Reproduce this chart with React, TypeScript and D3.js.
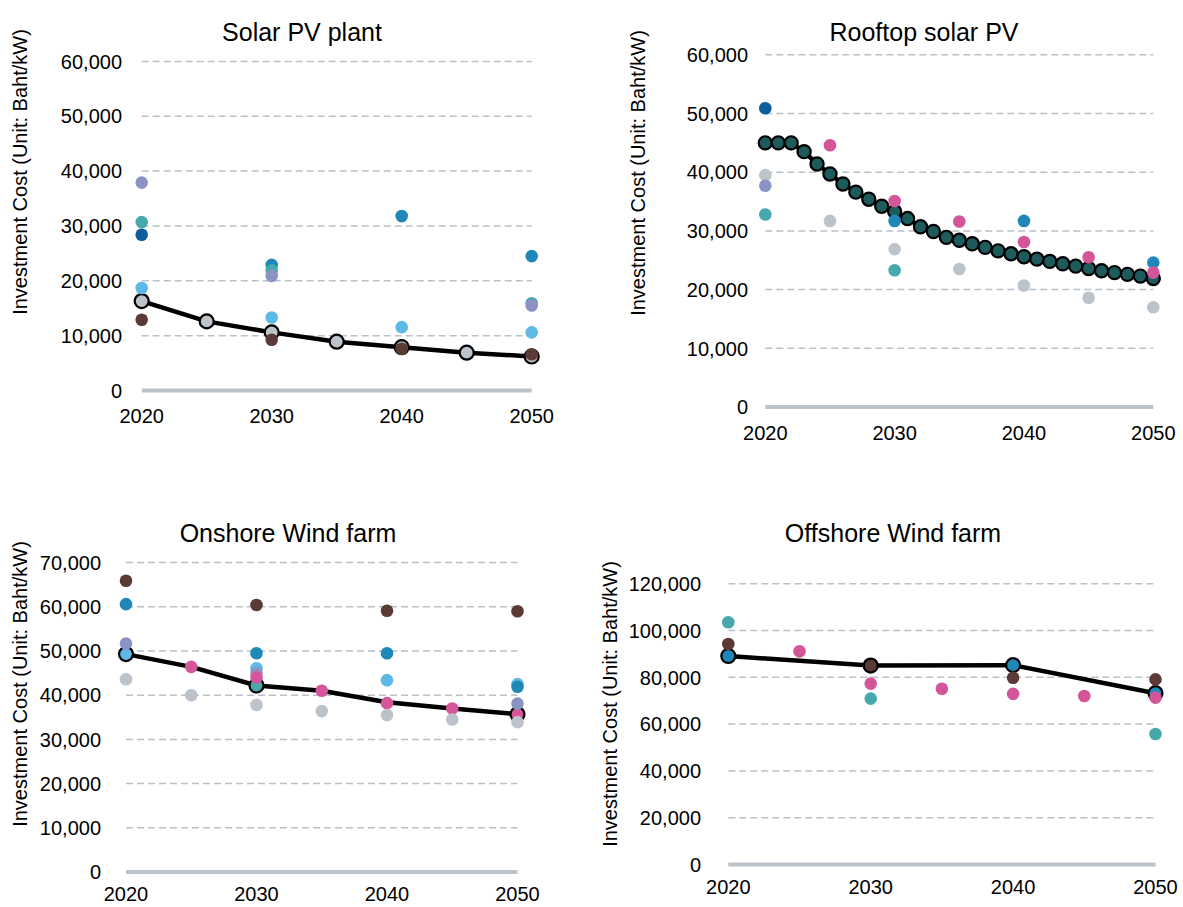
import React from "react";
import * as d3 from "d3";

// series colours by source key
const SRC_COLORS: Record<string, string> = {
  A: "#8b93c5",
  B: "#46a9ad",
  C: "#0b5e99",
  D: "#5db9e6",
  E: "#bcc3ca",
  F: "#5b3a36",
  G: "#1f88b9",
  H: "#d5559b",
  T: "#1e5b5d",
};

type Dot = [number, number, string];
type Pt = [number, number];

// ---- Solar PV plant ----
const solarPlantLine: Pt[] = [
  [2020, 16300], [2025, 12600], [2030, 10600], [2035, 8900],
  [2040, 7900], [2045, 6900], [2050, 6200],
];
const solarPlantLineSrc = "E";
const solarPlantDots: Dot[] = [
  [2020, 37900, "A"], [2020, 30700, "B"], [2020, 28400, "C"], [2020, 18700, "D"], [2020, 12900, "F"],
  [2030, 22900, "G"], [2030, 21900, "B"], [2030, 20900, "A"], [2030, 13300, "D"], [2030, 9250, "F"],
  [2040, 31800, "G"], [2040, 11550, "D"], [2040, 7600, "F"],
  [2050, 24500, "G"], [2050, 15900, "B"], [2050, 15500, "A"], [2050, 10600, "D"], [2050, 6600, "F"],
];

// ---- Rooftop solar PV ----
const rooftopYears = d3.range(2020, 2051);
const rooftopValues = [
  45000, 45000, 45000, 43500, 41400, 39700, 38000, 36600, 35400, 34200,
  33300, 32100, 30700, 29900, 28900, 28400, 27800, 27200, 26600, 26100,
  25600, 25200, 24800, 24400, 24000, 23600, 23200, 22900, 22600, 22300, 21900,
];
const rooftopLineSrc = "T";
const rooftopDots: Dot[] = [
  [2020, 50900, "C"], [2020, 39500, "E"], [2020, 37700, "A"], [2020, 32800, "B"],
  [2025, 44600, "H"], [2025, 31700, "E"],
  [2030, 35100, "H"], [2030, 31700, "G"], [2030, 26900, "E"], [2030, 23300, "B"],
  [2035, 31600, "H"], [2035, 23500, "E"],
  [2040, 31700, "G"], [2040, 28100, "H"], [2040, 20700, "E"],
  [2045, 25500, "H"], [2045, 18600, "E"],
  [2050, 24600, "G"], [2050, 22900, "H"], [2050, 17000, "E"],
];

// ---- Onshore Wind farm ----
const onshoreLine: Pt[] = [
  [2020, 49300], [2025, 46400], [2030, 42200], [2035, 41000],
  [2040, 38400], [2045, 37000], [2050, 35700],
];
const onshoreLineMarks: [number, string][] = [[2020, "D"], [2030, "B"], [2050, "H"]];
const onshoreDots: Dot[] = [
  [2020, 65900, "F"], [2020, 60600, "G"], [2020, 51700, "A"], [2020, 43600, "E"],
  [2025, 46400, "H"], [2025, 40000, "E"],
  [2030, 60400, "F"], [2030, 49500, "G"], [2030, 46100, "D"], [2030, 45000, "A"], [2030, 44000, "H"], [2030, 37800, "E"],
  [2035, 41000, "H"], [2035, 36400, "E"],
  [2040, 59100, "F"], [2040, 49500, "G"], [2040, 43400, "D"], [2040, 38200, "H"], [2040, 35500, "E"],
  [2045, 37000, "H"], [2045, 34500, "E"],
  [2050, 59000, "F"], [2050, 42500, "D"], [2050, 41900, "G"], [2050, 38100, "A"], [2050, 33900, "E"],
];

// ---- Offshore Wind farm ----
const offshoreLine: Pt[] = [[2020, 89100], [2030, 85000], [2040, 85200], [2050, 73200]];
const offshoreLineMarks: [number, string][] = [[2020, "G"], [2030, "F"], [2040, "G"], [2050, "G"]];
const offshoreDots: Dot[] = [
  [2020, 103500, "B"], [2020, 94200, "F"],
  [2025, 91100, "H"],
  [2030, 77300, "H"], [2030, 70900, "B"],
  [2035, 75100, "H"],
  [2040, 79800, "F"], [2040, 72900, "H"],
  [2045, 72000, "H"],
  [2050, 79100, "F"], [2050, 71300, "H"], [2050, 55800, "B"],
];

const xTicks = [2020, 2030, 2040, 2050];
const yLabel = "Investment Cost (Unit: Baht/kW)";
const FONT = "'Liberation Sans', Arial, Helvetica, sans-serif";

interface PanelProps {
  title: string;
  titleX: number;
  titleY: number;
  xRange: [number, number];
  y0: number;
  yTop: number;
  yMax: number;
  yStep: number;
  tickRight: number;
  xLabelDy: number;
  yLabelX: number;
  yLabelY: number;
  line: Pt[];
  lineMarks: [number, string][];
  markR: number;
  dots: Dot[];
}

function Panel(p: PanelProps) {
  const x = d3.scaleLinear().domain([2020, 2050]).range(p.xRange);
  const y = d3.scaleLinear().domain([0, p.yMax]).range([p.y0, p.yTop]);
  const yTicks = d3.range(0, p.yMax + 1, p.yStep);
  const lineGen = d3
    .line<Pt>()
    .x((d) => x(d[0]))
    .y((d) => y(d[1]));
  const fmt = d3.format(",");
  const lineVal = new Map(p.line.map((d) => [d[0], d[1]]));

  return (
    <g fontFamily={FONT}>
      <text x={p.titleX} y={p.titleY} textAnchor="middle" fontSize={25} fill="#000">
        {p.title}
      </text>
      <text
        transform={`translate(${p.yLabelX},${p.yLabelY}) rotate(-90)`}
        textAnchor="middle"
        dominantBaseline="middle"
        fontSize={20}
        fill="#000"
      >
        {yLabel}
      </text>
      {yTicks.map((t) => (
        <g key={t}>
          {t > 0 && (
            <line
              x1={p.xRange[0]}
              x2={p.xRange[1]}
              y1={y(t)}
              y2={y(t)}
              stroke="#b9c1c9"
              strokeWidth={1.5}
              strokeDasharray="7,4"
            />
          )}
          <text
            x={p.tickRight}
            y={y(t)}
            dy="0.36em"
            textAnchor="end"
            fontSize={20}
            fill="#000"
          >
            {fmt(t)}
          </text>
        </g>
      ))}
      <line
        x1={p.xRange[0]}
        x2={p.xRange[1]}
        y1={y(0)}
        y2={y(0)}
        stroke="#bcc3ca"
        strokeWidth={4}
      />
      {xTicks.map((t) => (
        <text key={t} x={x(t)} y={p.y0 + p.xLabelDy} textAnchor="middle" fontSize={20} fill="#000">
          {t}
        </text>
      ))}
      <path d={lineGen(p.line) || ""} fill="none" stroke="#000" strokeWidth={4.5} strokeLinejoin="round" />
      {p.lineMarks.map(([yr, src]) => (
        <circle
          key={"m" + yr}
          cx={x(yr)}
          cy={y(lineVal.get(yr) || 0)}
          r={p.markR}
          fill={SRC_COLORS[src]}
          stroke="#000"
          strokeWidth={2.2}
        />
      ))}
      {p.dots.map(([yr, v, src], i) => (
        <circle key={i} cx={x(yr)} cy={y(v)} r={6.3} fill={SRC_COLORS[src]} />
      ))}
    </g>
  );
}

export default function App() {
  const rooftopLine: Pt[] = rooftopYears.map((yr, i) => [yr, rooftopValues[i]]);
  return (
    <svg
      width={1183}
      height={907}
      style={{ position: "absolute", left: 0, top: 0, background: "#fff" }}
    >
      <Panel
        title="Solar PV plant"
        titleX={302}
        titleY={41}
        xRange={[141.7, 531.7]}
        y0={390.5}
        yTop={61.4}
        yMax={60000}
        yStep={10000}
        tickRight={122}
        xLabelDy={32.5}
        yLabelX={22}
        yLabelY={172}
        line={solarPlantLine}
        lineMarks={solarPlantLine.map((d) => [d[0], solarPlantLineSrc] as [number, string])}
        markR={7}
        dots={solarPlantDots}
      />
      <Panel
        title="Rooftop solar PV"
        titleX={924}
        titleY={41}
        xRange={[765.3, 1153.3]}
        y0={407}
        yTop={54.8}
        yMax={60000}
        yStep={10000}
        tickRight={748}
        xLabelDy={33}
        yLabelX={640}
        yLabelY={173}
        line={rooftopLine}
        lineMarks={rooftopLine.map((d) => [d[0], rooftopLineSrc] as [number, string])}
        markR={6.6}
        dots={rooftopDots}
      />
      <Panel
        title="Onshore Wind farm"
        titleX={288}
        titleY={542}
        xRange={[126, 517.5]}
        y0={872}
        yTop={562.6}
        yMax={70000}
        yStep={10000}
        tickRight={101}
        xLabelDy={29}
        yLabelX={22}
        yLabelY={684}
        line={onshoreLine}
        lineMarks={onshoreLineMarks}
        markR={7}
        dots={onshoreDots}
      />
      <Panel
        title="Offshore Wind farm"
        titleX={893}
        titleY={542}
        xRange={[728.3, 1155.5]}
        y0={864.5}
        yTop={583.7}
        yMax={120000}
        yStep={20000}
        tickRight={701}
        xLabelDy={29}
        yLabelX={612}
        yLabelY={704}
        line={offshoreLine}
        lineMarks={offshoreLineMarks}
        markR={7}
        dots={offshoreDots}
      />
    </svg>
  );
}
